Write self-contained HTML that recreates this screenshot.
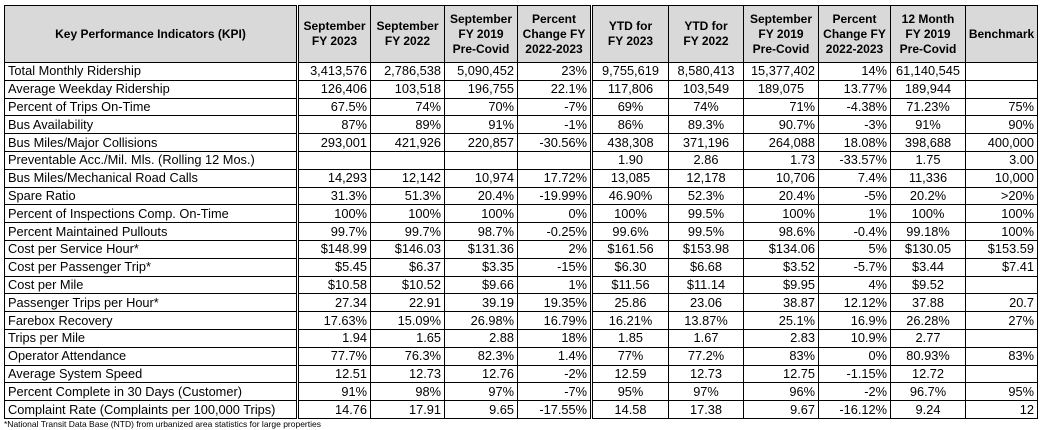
<!DOCTYPE html>
<html><head><meta charset="utf-8"><style>
body{margin:0;background:#fff;width:1041px;height:430px;overflow:hidden;font-family:"Liberation Sans",sans-serif;}
table{position:absolute;left:4px;top:5px;border-collapse:collapse;table-layout:fixed;font-size:12.8px;color:#000;}
td,th{border:1px solid #000;padding:0 3px;white-space:nowrap;overflow:hidden;}
td{height:16.8px;line-height:16px;}
th{background:#d9d9d9;font-weight:bold;font-size:12px;line-height:15px;height:56px;text-align:center;padding:0 1px;}
td{text-align:right;}
td:first-child{text-align:left;}
.c{text-align:center;}
.d{border-right:3px double #000;}
.f{position:absolute;left:4px;top:419px;font-size:8.5px;}
</style></head><body>
<table>
<colgroup><col style="width:293px"><col style="width:73px"><col style="width:74px"><col style="width:73px"><col style="width:74px"><col style="width:77px"><col style="width:75px"><col style="width:75px"><col style="width:72px"><col style="width:75px"><col style="width:72px"></colgroup>
<tr><th class="d">Key Performance Indicators (KPI)</th><th>September<br>FY 2023</th><th>September<br>FY 2022</th><th>September<br>FY 2019<br>Pre-Covid</th><th class="d">Percent<br>Change FY<br>2022-2023</th><th>YTD for<br>FY 2023</th><th>YTD for<br>FY 2022</th><th>September<br>FY 2019<br>Pre-Covid</th><th>Percent<br>Change FY<br>2022-2023</th><th>12 Month<br>FY 2019<br>Pre-Covid</th><th>Benchmark</th></tr>
<tr><td class="d">Total Monthly Ridership</td><td>3,413,576</td><td>2,786,538</td><td>5,090,452</td><td class="d">23%</td><td class="c">9,755,619</td><td class="c">8,580,413</td><td>15,377,402</td><td>14%</td><td class="c">61,140,545</td><td></td></tr>
<tr><td class="d">Average Weekday Ridership</td><td>126,406</td><td>103,518</td><td>196,755</td><td class="d">22.1%</td><td class="c">117,806</td><td class="c">103,549</td><td class="c">189,075</td><td>13.77%</td><td class="c">189,944</td><td></td></tr>
<tr><td class="d">Percent of Trips On-Time</td><td>67.5%</td><td>74%</td><td>70%</td><td class="d">-7%</td><td class="c">69%</td><td class="c">74%</td><td>71%</td><td>-4.38%</td><td class="c">71.23%</td><td>75%</td></tr>
<tr><td class="d">Bus Availability</td><td>87%</td><td>89%</td><td>91%</td><td class="d">-1%</td><td class="c">86%</td><td class="c">89.3%</td><td>90.7%</td><td>-3%</td><td class="c">91%</td><td>90%</td></tr>
<tr><td class="d">Bus Miles/Major Collisions</td><td>293,001</td><td>421,926</td><td>220,857</td><td class="d">-30.56%</td><td class="c">438,308</td><td class="c">371,196</td><td>264,088</td><td>18.08%</td><td class="c">398,688</td><td>400,000</td></tr>
<tr><td class="d">Preventable Acc./Mil. Mls. (Rolling 12 Mos.)</td><td></td><td></td><td></td><td class="d"></td><td class="c">1.90</td><td class="c">2.86</td><td>1.73</td><td>-33.57%</td><td class="c">1.75</td><td>3.00</td></tr>
<tr><td class="d">Bus Miles/Mechanical Road Calls</td><td>14,293</td><td>12,142</td><td>10,974</td><td class="d">17.72%</td><td class="c">13,085</td><td class="c">12,178</td><td>10,706</td><td>7.4%</td><td class="c">11,336</td><td>10,000</td></tr>
<tr><td class="d">Spare Ratio</td><td>31.3%</td><td>51.3%</td><td>20.4%</td><td class="d">-19.99%</td><td class="c">46.90%</td><td class="c">52.3%</td><td>20.4%</td><td>-5%</td><td class="c">20.2%</td><td>&gt;20%</td></tr>
<tr><td class="d">Percent of Inspections Comp. On-Time</td><td>100%</td><td>100%</td><td>100%</td><td class="d">0%</td><td class="c">100%</td><td class="c">99.5%</td><td>100%</td><td>1%</td><td class="c">100%</td><td>100%</td></tr>
<tr><td class="d">Percent Maintained Pullouts</td><td>99.7%</td><td>99.7%</td><td>98.7%</td><td class="d">-0.25%</td><td class="c">99.6%</td><td class="c">99.5%</td><td>98.6%</td><td>-0.4%</td><td class="c">99.18%</td><td>100%</td></tr>
<tr><td class="d">Cost per Service Hour*</td><td>$148.99</td><td>$146.03</td><td>$131.36</td><td class="d">2%</td><td class="c">$161.56</td><td class="c">$153.98</td><td>$134.06</td><td>5%</td><td class="c">$130.05</td><td>$153.59</td></tr>
<tr><td class="d">Cost per Passenger Trip*</td><td>$5.45</td><td>$6.37</td><td>$3.35</td><td class="d">-15%</td><td class="c">$6.30</td><td class="c">$6.68</td><td>$3.52</td><td>-5.7%</td><td class="c">$3.44</td><td>$7.41</td></tr>
<tr><td class="d">Cost per Mile</td><td>$10.58</td><td>$10.52</td><td>$9.66</td><td class="d">1%</td><td class="c">$11.56</td><td class="c">$11.14</td><td>$9.95</td><td>4%</td><td class="c">$9.52</td><td></td></tr>
<tr><td class="d">Passenger Trips per Hour*</td><td>27.34</td><td>22.91</td><td>39.19</td><td class="d">19.35%</td><td class="c">25.86</td><td class="c">23.06</td><td>38.87</td><td>12.12%</td><td class="c">37.88</td><td>20.7</td></tr>
<tr><td class="d">Farebox Recovery</td><td>17.63%</td><td>15.09%</td><td>26.98%</td><td class="d">16.79%</td><td class="c">16.21%</td><td class="c">13.87%</td><td>25.1%</td><td>16.9%</td><td class="c">26.28%</td><td>27%</td></tr>
<tr><td class="d">Trips per Mile</td><td>1.94</td><td>1.65</td><td>2.88</td><td class="d">18%</td><td class="c">1.85</td><td class="c">1.67</td><td>2.83</td><td>10.9%</td><td class="c">2.77</td><td></td></tr>
<tr><td class="d">Operator Attendance</td><td>77.7%</td><td>76.3%</td><td>82.3%</td><td class="d">1.4%</td><td class="c">77%</td><td class="c">77.2%</td><td>83%</td><td>0%</td><td class="c">80.93%</td><td>83%</td></tr>
<tr><td class="d">Average System Speed</td><td>12.51</td><td>12.73</td><td>12.76</td><td class="d">-2%</td><td class="c">12.59</td><td class="c">12.73</td><td>12.75</td><td>-1.15%</td><td class="c">12.72</td><td></td></tr>
<tr><td class="d">Percent Complete in 30 Days (Customer)</td><td>91%</td><td>98%</td><td>97%</td><td class="d">-7%</td><td class="c">95%</td><td class="c">97%</td><td>96%</td><td>-2%</td><td class="c">96.7%</td><td>95%</td></tr>
<tr><td class="d">Complaint Rate (Complaints per 100,000 Trips)</td><td>14.76</td><td>17.91</td><td>9.65</td><td class="d">-17.55%</td><td class="c">14.58</td><td class="c">17.38</td><td>9.67</td><td>-16.12%</td><td class="c">9.24</td><td>12</td></tr>
</table>
<div class="f">*National Transit Data Base (NTD) from urbanized area statistics for large properties</div>
</body></html>
